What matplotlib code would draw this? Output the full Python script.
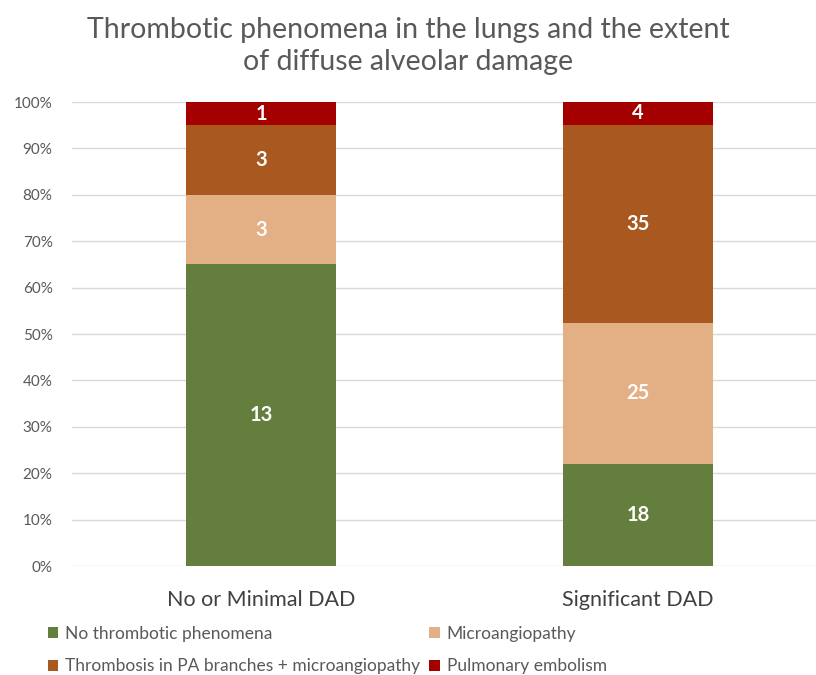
import matplotlib
matplotlib.use("Agg")
import matplotlib.pyplot as plt
import numpy as np

categories = ["No or Minimal DAD", "Significant DAD"]
series_names = ["No thrombotic phenomena", "Microangiopathy",
                "Thrombosis in PA branches + microangiopathy", "Pulmonary embolism"]
no_thrombotic = [13, 18]
microangiopathy = [3, 25]
thrombosis_pa = [3, 35]
pulmonary_embolism = [1, 4]
colors = ["#647F3D", "#E3AF84", "#A9581F", "#A50000"]
yticks = [0, 10, 20, 30, 40, 50, 60, 70, 80, 90, 100]

plt.rcParams['font.family'] = ['Lato', 'DejaVu Sans']

series = [no_thrombotic, microangiopathy, thrombosis_pa, pulmonary_embolism]
totals = np.sum(np.array(series, dtype=float), axis=0)

fig = plt.figure(figsize=(8.16, 6.75), dpi=100)
ax = fig.add_axes([72/816, 1-566/675, 1-72/816, (566-102)/675])

x = np.arange(len(categories))
bottom = np.zeros(len(categories))
handles = []
for vals, name, col in zip(series, series_names, colors):
    frac = np.array(vals, dtype=float) / totals
    b = ax.bar(x, frac, 0.40, bottom=bottom, color=col, label=name, zorder=3)
    handles.append(b)
    for xi, f, bt, v in zip(x, frac, bottom, vals):
        ax.text(xi, bt + f/2, str(v), ha='center', va='center', color='white',
                fontsize=14.5, fontweight='bold', zorder=4)
    bottom += frac

ax.set_xlim(-(261-72)/377, 1 + (816-638)/377)
ax.set_ylim(0, 1)
ax.set_yticks([t/100 for t in yticks])
ax.set_yticklabels([f"{t}%" for t in yticks], fontsize=11, color='#595959')
ax.set_xticks(x)
ax.set_xticklabels(categories, fontsize=15.5, color='#404040')
ax.tick_params(axis='both', length=0)
ax.tick_params(axis='y', pad=14)
ax.tick_params(axis='x', pad=17)
ax.grid(axis='y', color='#D9D9D9', linewidth=1, zorder=0)
for s in ax.spines.values():
    s.set_visible(False)

fig.suptitle("Thrombotic phenomena in the lungs and the extent\nof diffuse alveolar damage",
             fontsize=20.5, color='#595959', y=0.975, linespacing=1.3)

order = [0, 2, 1, 3]
leg = fig.legend([handles[i] for i in order], [series_names[i] for i in order],
                 loc='upper left', bbox_to_anchor=(48/816, 1-626/675), ncol=2,
                 frameon=False, fontsize=12.5, handlelength=0.6, handleheight=0.6,
                 handletextpad=0.4, columnspacing=0.5, labelspacing=0.95,
                 labelcolor='#595959', borderaxespad=0, borderpad=0)

fig.savefig("out.png", dpi=100)
